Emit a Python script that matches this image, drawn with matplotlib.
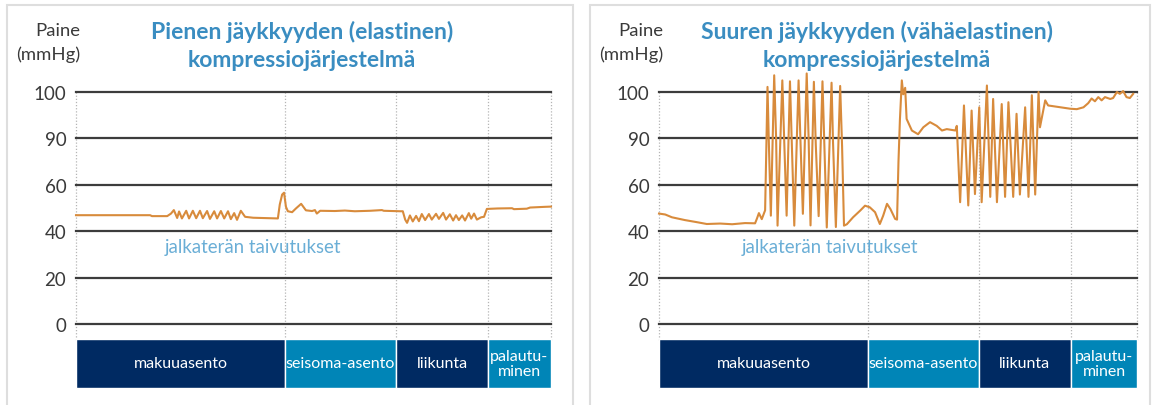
import numpy as np
import matplotlib
matplotlib.use("Agg")
import matplotlib.pyplot as plt
from matplotlib.patches import Rectangle
import matplotlib.transforms as mtransforms

# ---------------- data ----------------
y_ticks = [0, 20, 40, 60, 90, 100]
y_ticklabels = ["0", "20", "40", "60", "90", "100"]

phases = ["makuuasento", "seisoma-asento", "liikunta", "palautu-\nminen"]
left_bounds = [0, 44.0, 67.4, 86.7, 100]
right_bounds = [0, 43.7, 66.9, 86.2, 100]

left_title = "Pienen jäykkyyden (elastinen)\nkompressiojärjestelmä"
right_title = "Suuren jäykkyyden (vähäelastinen)\nkompressiojärjestelmä"
ylabel = "Paine\n(mmHg)"
annot = "jalkaterän taivutukset"

left_t = [0, 15.6, 16.0, 19.2, 20.0, 20.6, 21.3, 21.7, 22.3, 23.2, 23.8, 24.6, 25.3,
          26.1, 26.7, 27.6, 28.2, 29.1, 29.7, 30.5, 31.2, 32.0, 32.6, 33.3, 33.9,
          34.7, 35.6, 37.3, 42.5, 42.9, 43.4, 43.8, 44.2, 44.6, 45.5, 46.3, 47.4,
          48.4, 49.7, 50.3, 50.7, 51.4, 54.5, 56.6, 58.7, 61.9, 64.4, 64.8, 68.2,
          68.8, 69.3, 69.7, 70.3, 70.9, 71.6, 72.2, 72.8, 73.5, 74.3, 74.9, 75.8,
          76.4, 77.3, 77.9, 78.7, 79.4, 80.0, 80.6, 81.3, 81.9, 82.7, 83.2, 83.8,
          84.4, 85.3, 85.9, 86.5, 88.8, 91.8, 92.2, 94.9, 95.6, 98.7, 100]
left_p = [46.9, 46.9, 46.5, 46.5, 47.6, 49.1, 45.7, 48.5, 45.5, 48.8, 45.5, 48.8, 45.6,
          48.8, 45.6, 48.7, 45.3, 48.6, 45.5, 48.7, 45.5, 48.6, 45.2, 47.8, 44.9,
          48.8, 46.2, 45.8, 45.5, 51.5, 55.8, 56.6, 50.5, 48.6, 48.2, 49.8, 51.8,
          49.0, 48.7, 49.1, 47.6, 48.8, 48.7, 48.9, 48.6, 48.8, 49.1, 48.8, 48.6,
          48.6, 45.0, 43.6, 46.8, 44.2, 46.6, 44.3, 47.4, 44.8, 47.4, 45.0, 47.5,
          45.3, 47.9, 45.0, 47.3, 44.6, 46.9, 44.8, 46.8, 44.6, 47.8, 45.4, 47.6,
          45.0, 46.0, 46.2, 49.6, 49.8, 49.9, 49.5, 49.7, 50.2, 50.5, 50.6]

right_t = [0, 1.3, 2.7, 5.4, 7.9, 10.0, 12.8, 15.3, 18.0, 20.1, 20.5, 20.9, 21.5, 22.2,
           22.7, 23.0, 23.4, 24.1, 24.5, 24.8, 25.8, 26.2, 26.7, 27.4, 27.8, 28.3,
           29.2, 29.6, 30.1, 30.9, 31.3, 31.7, 32.4, 32.8, 33.4, 34.2, 34.6, 35.1,
           36.1, 36.4, 37.0, 37.9, 38.3, 38.7, 39.3, 40.6, 42.1, 43.1, 44.1, 45.2,
           46.2, 46.9, 47.7, 48.4, 49.4, 49.8, 50.1, 50.4, 50.8, 51.1, 51.5, 51.8,
           52.9, 54.2, 55.3, 56.7, 58.1, 59.2, 60.2, 62.0, 62.3,
           63.0, 63.8, 64.7, 65.4, 66.1, 67.0, 67.5, 68.6, 69.3, 69.9, 70.7, 71.7,
           72.4, 73.1, 74.1, 74.8, 75.5, 76.6, 77.3, 78.0, 78.7, 79.4, 79.7, 80.8,
           81.4, 86.0, 87.4, 88.8, 89.8, 90.5, 91.2, 91.9, 92.6, 93.3, 94.4, 95.0,
           95.8, 96.4, 97.1, 97.8, 98.5, 99.2]
right_p = [47.6, 47.2, 46.0, 44.8, 43.9, 43.1, 43.3, 43.0, 43.5, 43.4, 45.5, 47.8, 45.2, 49.0,
           101.1, 85, 46.7, 103.6, 90, 42.4, 102.5, 88, 46.7, 102.3, 85, 42.4,
           102.5, 88, 47.5, 104.0, 90, 42.5, 102.2, 86, 46.5, 102.3, 85, 41.6,
           102.0, 88, 41.8, 101.3, 85, 42.4, 43.0, 46.0, 48.9, 51.0, 50.3, 48.2,
           43.1, 46.7, 51.8, 49.6, 45.3, 45.0, 75, 94, 102.5, 99.5, 100.9, 94.2,
           91.7, 90.9, 92.4, 93.5, 92.7, 91.7, 92.0, 91.7, 92.7,
           52.5, 97.1, 51.1, 96.0, 56.0, 96.7, 52.5, 101.4, 54.8, 98.5, 52.5, 97.4,
           54.8, 97.8, 54.8, 95.3, 55.8, 96.7, 54.8, 99.3, 55.8, 100.0, 92.4, 98.2,
           97.1, 96.4, 96.3, 96.7, 97.6, 98.6, 98.0, 98.9, 98.2, 98.9, 98.5, 98.7,
           100.0, 99.6, 100.2, 98.9, 98.7, 99.6]

# ---------------- style ----------------
W, H = 1157, 406
TITLE_C = "#3a8dc1"
ANNOT_C = "#6aaed6"
LINE_C = "#d88b3c"
NAVY = "#002a62"
LBLUE = "#0085b7"
GRID_C = "#3c3c3c"
TEXT_C = "#3a3a3a"
FONT = "Lato"

plt.rcParams["font.family"] = [FONT, "DejaVu Sans"]

# piecewise scale: 0-60 linear, 60-90 compressed, 90-100 expanded
src = [-100, 0, 60, 90, 100, 200]
dst = [-100, 0, 60, 80, 100, 300]
def fwd(v):
    return np.interp(v, src, dst)
def inv(v):
    return np.interp(v, dst, src)

fig = plt.figure(figsize=(W / 100, H / 100), dpi=100)

def fx(px):
    return px / W
def fy(py):
    return 1 - py / H

# panel borders
for (x0, x1) in [(7, 573), (590, 1150)]:
    fig.patches.append(Rectangle((fx(x0), fy(420)), fx(x1 - x0), (420 - 6) / H,
                                 transform=fig.transFigure, fill=False,
                                 edgecolor="#dedede", linewidth=1.5))

panels = [
    (76, 551, left_t, left_p, left_bounds, left_title, 302, 80, 165),
    (659, 1137, right_t, right_p, right_bounds, right_title, 877, 663, 742),
]

for (xl, xr, tt, pp, bounds, title, tcx, ylx, ax_annot) in panels:
    ax = fig.add_axes([fx(xl), fy(325), fx(xr - xl), (325 - 93) / H])
    ax.set_yscale("function", functions=(fwd, inv))
    ax.set_xlim(0, 100)
    ax.set_ylim(0, 100)
    for s in ax.spines.values():
        s.set_visible(False)
    ax.set_yticks(y_ticks)
    ax.set_yticklabels(y_ticklabels)
    ax.yaxis.set_minor_locator(matplotlib.ticker.NullLocator())
    ax.tick_params(axis="y", length=0, pad=7, labelsize=13.5, labelcolor=TEXT_C)
    ax.set_xticks([])
    for yv in y_ticks:
        ax.axhline(yv, color=GRID_C, lw=1.6, zorder=1, clip_on=False)

    trans = mtransforms.blended_transform_factory(ax.transData, ax.transAxes)
    # dotted phase separators
    for b in bounds:
        ax.plot([b, b], [1, -0.07], transform=trans, color="#b5b5b5", lw=0.9,
                ls=(0, (1, 1.5)), clip_on=False, zorder=0)

    ax.plot(tt, pp, color=LINE_C, lw=1.5, zorder=3, clip_on=False)

    # phase bands
    cols = [NAVY, LBLUE, NAVY, LBLUE]
    for i, name in enumerate(phases):
        b0, b1 = bounds[i], bounds[i + 1]
        ax.add_patch(Rectangle((b0, -0.276), b1 - b0, 0.211, transform=trans,
                               facecolor=cols[i], edgecolor="white", lw=1.0,
                               clip_on=False, zorder=2))
        ax.text((b0 + b1) / 2, -0.17, name, transform=trans, ha="center",
                va="center", color="white", fontsize=11.5, linespacing=1.1,
                clip_on=False, zorder=4)

    # titles and labels
    fig.text(fx(tcx), fy(46), title, ha="center", va="center", color=TITLE_C,
             fontsize=16.5, fontweight="bold", linespacing=1.38)
    fig.text(fx(ylx), fy(43), ylabel, ha="right", va="center", color=TEXT_C,
             fontsize=13.3, linespacing=1.5)
    fig.text(fx(ax_annot), fy(248), annot, ha="left", va="center", color=ANNOT_C,
             fontsize=13.4)

fig.savefig("out.png", dpi=100, facecolor="white")
